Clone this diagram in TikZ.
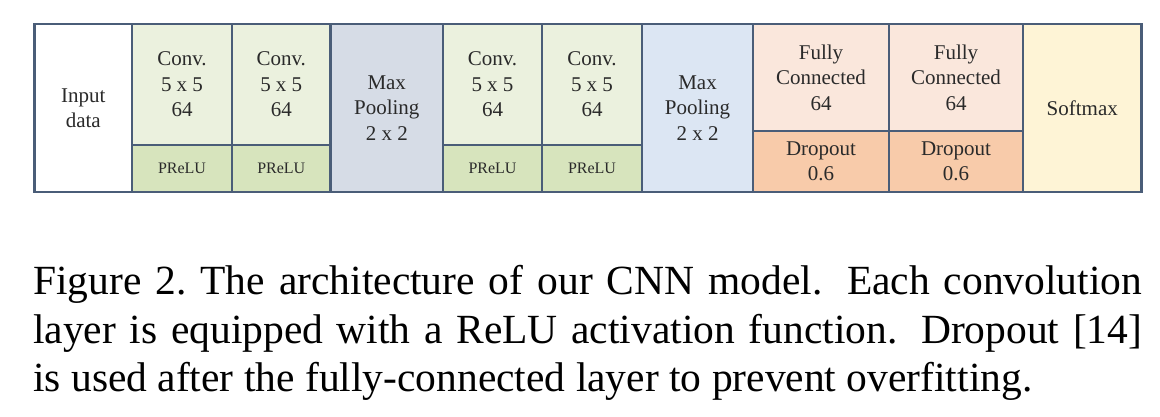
\documentclass[tikz,border=0pt]{standalone}
\usepackage{fontspec}
\setmainfont{Liberation Serif}
\definecolor{bord}{HTML}{4A5D78}
\definecolor{txt}{HTML}{2A2A2A}
\definecolor{convtop}{HTML}{EBF1DE}
\definecolor{prelu}{HTML}{D7E4BD}
\definecolor{poolA}{HTML}{D6DCE6}
\definecolor{poolB}{HTML}{DCE6F3}
\definecolor{fctop}{HTML}{FAE7DC}
\definecolor{drop}{HTML}{F8CBAA}
\definecolor{soft}{HTML}{FEF4D6}
\begin{document}
\begin{tikzpicture}[x=1pt,y=-1pt,
  cell/.style={draw=bord, line width=2.8pt, inner sep=0pt, align=center, text=txt,
    font=\fontsize{21}{25.5}\selectfont},
  smallcell/.style={cell, font=\fontsize{16}{19}\selectfont},
  captext/.style={inner sep=0pt, font=\fontsize{41.5}{45}\selectfont, text=black}]
\useasboundingbox[fill=white] (0,0) rectangle (1160,416);

% Input
\node[cell, fill=white, minimum width=97.5pt, minimum height=168pt] (in) at (83.25,108) {Input\\data};
% Conv block 1
\node[cell, fill=convtop, minimum width=100pt, minimum height=121pt] (c1) at (182,84.5) {Conv.\\5 x 5\\64};
\node[smallcell, fill=prelu, minimum width=100pt, minimum height=47pt] (p1) at (182,168.5) {PReLU};
\node[cell, fill=convtop, minimum width=98.5pt, minimum height=121pt] (c2) at (281.25,84.5) {Conv.\\5 x 5\\64};
\node[smallcell, fill=prelu, minimum width=98.5pt, minimum height=47pt] (p2) at (281.25,168.5) {PReLU};
% Pool 1
\node[cell, fill=poolA, minimum width=112.5pt, minimum height=168pt] (mp1) at (386.75,108) {Max\\Pooling\\2 x 2};
% Conv block 2
\node[cell, fill=convtop, minimum width=99pt, minimum height=121pt] (c3) at (492.5,84.5) {Conv.\\5 x 5\\64};
\node[smallcell, fill=prelu, minimum width=99pt, minimum height=47pt] (p3) at (492.5,168.5) {PReLU};
\node[cell, fill=convtop, minimum width=100pt, minimum height=121pt] (c4) at (592,84.5) {Conv.\\5 x 5\\64};
\node[smallcell, fill=prelu, minimum width=100pt, minimum height=47pt] (p4) at (592,168.5) {PReLU};
% Pool 2
\node[cell, fill=poolB, minimum width=111pt, minimum height=168pt] (mp2) at (697.5,108) {Max\\Pooling\\2 x 2};
% FC
\node[cell, fill=fctop, minimum width=136pt, minimum height=107pt] (fc1) at (821,77.5) {Fully\\Connected\\64};
\node[cell, fill=drop, minimum width=136pt, minimum height=61pt] (d1) at (821,161.5) {Dropout\\0.6};
\node[cell, fill=fctop, minimum width=134pt, minimum height=107pt] (fc2) at (956,77.5) {Fully\\Connected\\64};
\node[cell, fill=drop, minimum width=134pt, minimum height=61pt] (d2) at (956,161.5) {Dropout\\0.6};
% Softmax
\node[cell, fill=soft, minimum width=118.5pt, minimum height=168pt] (sm) at (1082.25,108) {Softmax};

% Caption
\node[captext, anchor=base west] (l1) at (33,294) {\makebox[1109pt][s]{Figure 2.\ The architecture of our CNN model. Each convolution}};
\node[captext, anchor=base west] (l2) at (33,343) {\makebox[1109pt][s]{layer is equipped with a ReLU activation function. Dropout [14]}};
\node[captext, anchor=base west] (l3) at (33,391) {is used after the fully-connected layer to prevent overfitting.};
\end{tikzpicture}
\end{document}
